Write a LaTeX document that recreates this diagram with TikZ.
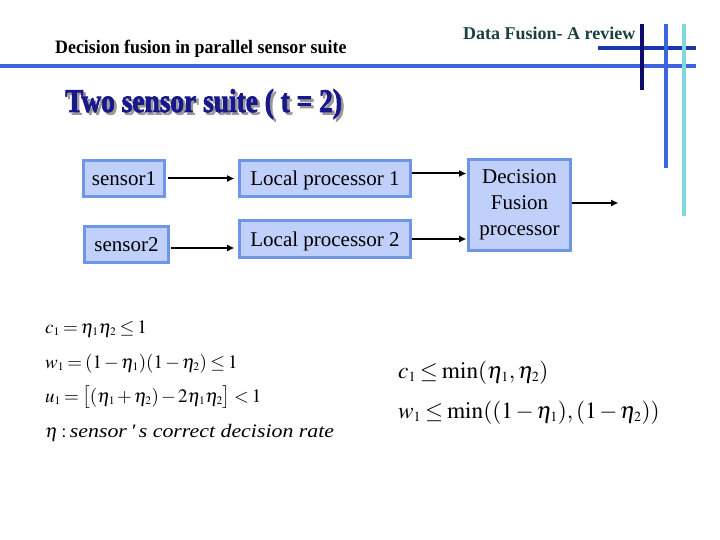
\documentclass[tikz,border=0pt]{standalone}
\usepackage{mathptmx}
\usepackage{fontspec}
\setmainfont{Liberation Serif}
\newfontface\titlefont[FakeBold=2.5]{Liberation Serif Bold}
\usetikzlibrary{arrows.meta}
\DeclareMathSizes{19}{19}{11.5}{9}
\DeclareMathSizes{23.3}{23.3}{14}{10}
\definecolor{royal}{RGB}{60,100,220}
\definecolor{deepblue}{RGB}{28,56,176}
\definecolor{navyline}{RGB}{12,12,110}
\definecolor{cyanline}{RGB}{128,216,224}
\definecolor{boxfill}{RGB}{192,208,250}
\definecolor{boxline}{RGB}{110,150,232}
\definecolor{titleblue}{RGB}{24,24,140}
\definecolor{tealdark}{RGB}{28,64,64}
\newcommand{\tightmath}{\medmuskip=2mu plus 1mu\thickmuskip=3mu plus 1mu}
\tikzset{
  boxbase/.style={draw=boxline, line width=3pt, fill=boxfill, inner sep=0pt,
    font=\fontsize{21}{26}\selectfont},
  box/.style={boxbase, text height=14pt, text depth=0pt},
  arr/.style={line width=2pt, -{Triangle[length=7pt,width=6pt]}},
  deco/.style={line width=4pt},
  formL/.style={anchor=base west, inner sep=0pt, font=\fontsize{19}{21}\selectfont\tightmath},
  formR/.style={anchor=base west, inner sep=0pt, font=\fontsize{23.3}{26}\selectfont\tightmath}
}
\begin{document}
\begin{tikzpicture}[x=1pt,y=-1pt]
\useasboundingbox (0,0) rectangle (720,540);
% decorative lines
\draw[deco, royal] (0,66) -- (696,66);
\draw[deco, deepblue] (598,48) -- (696,48);
\draw[deco, navyline] (642,24) -- (642,90);
\draw[deco, royal] (666,24) -- (666,168);
\draw[deco, cyanline] (684,24) -- (684,216);
% headers
\node[anchor=base west, inner sep=0pt, font=\fontsize{19}{22}\selectfont\bfseries] (hdr) at (55,54) {\scalebox{0.94}[1]{Decision fusion in parallel sensor suite}};
\node[anchor=base west, inner sep=0pt, text=tealdark, font=\fontsize{18}{22}\selectfont\bfseries] (rev) at (463,40) {Data Fusion- A review};
% title with shadow
\node[anchor=base west, inner sep=0pt, text=black!40, font=\fontsize{33}{36}\titlefont] (tsh) at (67.5,114.5) {\scalebox{0.83}[1]{Two sensor suite ( t = 2)}};
\node[anchor=base west, inner sep=0pt, text=titleblue, font=\fontsize{33}{36}\titlefont] (ttl) at (65,112) {\scalebox{0.83}[1]{Two sensor suite ( t = 2)}};
% boxes
\node[box, minimum width=81pt, minimum height=36pt] (s1) at (124,178.5) {sensor1};
\node[box, minimum width=84pt, minimum height=36pt] (s2) at (126.5,244.5) {sensor2};
\node[box, minimum width=171pt, minimum height=36pt] (lp1) at (325,178.5) {Local processor 1};
\node[box, minimum width=171pt, minimum height=37pt] (lp2) at (325,239) {Local processor 2};
\node[boxbase, minimum width=102pt, minimum height=91pt, align=center] (df) at (519.5,205) {Decision\\Fusion\\processor};
% connectors
\coordinate (a1) at (s1.east);
\coordinate (a2) at ([yshift=-3.5pt]s2.east);
\coordinate (b1) at ([yshift=5pt]lp1.east);
\coordinate (b2) at (lp2.east);
\coordinate (c1) at ([yshift=2pt]df.east);
\coordinate (out) at (618,203);
\draw[arr, shorten <=2pt, shorten >=4pt] (a1) -- (a1 -| lp1.west);
\draw[arr, shorten <=1pt, shorten >=4pt] (a2) -- (a2 -| lp2.west);
\draw[arr, shorten >=1pt] (b1) -- (b1 -| df.west);
\draw[arr, shorten >=1pt] (b2) -- (b2 -| df.west);
\draw[arr] (c1) -- (out);
% formulas left
\node[formL] (f1) at (45,333) {$c_1 = \eta_1\eta_2 \le 1$};
\node[formL] (f2) at (45,368) {$w_1 = (1-\eta_1)(1-\eta_2) \le 1$};
\node[formL] (f3) at (45,402) {$u_1 = \bigl[(\eta_1+\eta_2) - 2\eta_1\eta_2\bigr] < 1$};
\node[formL] (f4) at (45,437) {$\eta:$\,\scalebox{1.15}[1]{\textit{sensor\,\textquotesingle\,s correct decision rate}}};
% formulas right
\node[formR] (g1) at (398,378) {$c_1 \le \min(\eta_1,\eta_2)$};
\node[formR] (g2) at (398,418) {$w_1 \le \min((1-\eta_1),(1-\eta_2))$};
\end{tikzpicture}
\end{document}
